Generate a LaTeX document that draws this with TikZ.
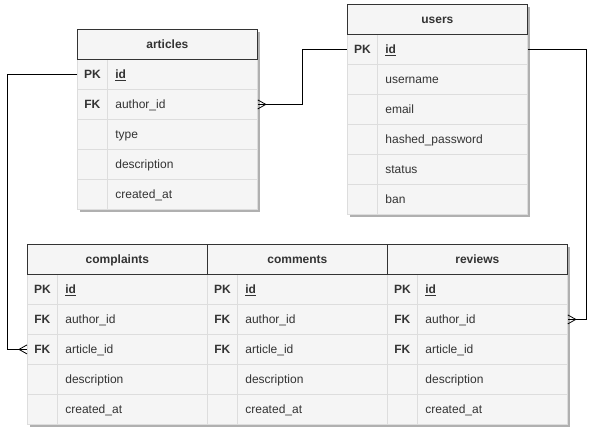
\documentclass[tikz,border=0pt]{standalone}
\usepackage{fontspec}
\setmainfont{Liberation Sans}
\definecolor{cellfill}{HTML}{F5F5F5}
\definecolor{cellline}{HTML}{DDDDDD}
\definecolor{headline}{HTML}{333333}
\definecolor{txt}{HTML}{333333}
\definecolor{shadowgray}{HTML}{B0B0B0}
\tikzset{
  cell/.style={draw=cellline, fill=cellfill, line width=0.8pt, minimum height=30pt,
    anchor=north west, inner sep=0pt, text=txt, text height=10.3pt, text depth=1.7pt,
    font=\fontsize{12}{14}\selectfont},
  keycell/.style={cell, minimum width=30pt, font=\fontsize{12}{14}\selectfont\bfseries},
  fieldcell/.style={cell, minimum width=150pt, text width=134pt, inner xsep=8pt, align=left},
  tablehead/.style={draw=headline, fill=cellfill, line width=0.8pt, minimum width=180pt,
    minimum height=30pt, anchor=north west, inner sep=0pt, text=txt,
    text height=10.3pt, text depth=1.7pt, font=\fontsize{12}{14}\selectfont\bfseries},
  shadowbox/.style={fill=shadowgray},
  link/.style={draw=black, line width=0.8pt}
}
\begin{document}
\begin{tikzpicture}[x=1pt, y=-1pt]
    \useasboundingbox (0,0) rectangle (596,432);

    % shadows
    \fill[shadowbox] (80,32) rectangle (260,212);
    \fill[shadowbox] (350,7) rectangle (530,217);
    \fill[shadowbox] (30,247) rectangle (570,427);

    % articles
      \node[keycell] (art-id-k) at (77,59) {PK};
      \node[fieldcell] (art-id) at (107,59) {\textbf{\underline{id}}};
      \node[keycell] (art-author-k) at (77,89) {FK};
      \node[fieldcell] (art-author) at (107,89) {author\_id};
      \node[keycell] (art-type-k) at (77,119) {};
      \node[fieldcell] (art-type) at (107,119) {type};
      \node[keycell] (art-desc-k) at (77,149) {};
      \node[fieldcell] (art-desc) at (107,149) {description};
      \node[keycell] (art-created-k) at (77,179) {};
      \node[fieldcell] (art-created) at (107,179) {created\_at};
    \node[tablehead] (art) at (77,29) {articles};

    % users
      \node[keycell] (usr-id-k) at (347,34) {PK};
      \node[fieldcell] (usr-id) at (377,34) {\textbf{\underline{id}}};
      \node[keycell] (usr-name-k) at (347,64) {};
      \node[fieldcell] (usr-name) at (377,64) {username};
      \node[keycell] (usr-email-k) at (347,94) {};
      \node[fieldcell] (usr-email) at (377,94) {email};
      \node[keycell] (usr-pass-k) at (347,124) {};
      \node[fieldcell] (usr-pass) at (377,124) {hashed\_password};
      \node[keycell] (usr-status-k) at (347,154) {};
      \node[fieldcell] (usr-status) at (377,154) {status};
      \node[keycell] (usr-ban-k) at (347,184) {};
      \node[fieldcell] (usr-ban) at (377,184) {ban};
    \node[tablehead] (usr) at (347,4) {users};

    % complaints
      \node[keycell] (cmp-id-k) at (27,274) {PK};
      \node[fieldcell] (cmp-id) at (57,274) {\textbf{\underline{id}}};
      \node[keycell] (cmp-author-k) at (27,304) {FK};
      \node[fieldcell] (cmp-author) at (57,304) {author\_id};
      \node[keycell] (cmp-article-k) at (27,334) {FK};
      \node[fieldcell] (cmp-article) at (57,334) {article\_id};
      \node[keycell] (cmp-desc-k) at (27,364) {};
      \node[fieldcell] (cmp-desc) at (57,364) {description};
      \node[keycell] (cmp-created-k) at (27,394) {};
      \node[fieldcell] (cmp-created) at (57,394) {created\_at};
    \node[tablehead] (cmp) at (27,244) {complaints};

    % comments
      \node[keycell] (cmt-id-k) at (207,274) {PK};
      \node[fieldcell] (cmt-id) at (237,274) {\textbf{\underline{id}}};
      \node[keycell] (cmt-author-k) at (207,304) {FK};
      \node[fieldcell] (cmt-author) at (237,304) {author\_id};
      \node[keycell] (cmt-article-k) at (207,334) {FK};
      \node[fieldcell] (cmt-article) at (237,334) {article\_id};
      \node[keycell] (cmt-desc-k) at (207,364) {};
      \node[fieldcell] (cmt-desc) at (237,364) {description};
      \node[keycell] (cmt-created-k) at (207,394) {};
      \node[fieldcell] (cmt-created) at (237,394) {created\_at};
    \node[tablehead] (cmt) at (207,244) {comments};

    % reviews
      \node[keycell] (rev-id-k) at (387,274) {PK};
      \node[fieldcell] (rev-id) at (417,274) {\textbf{\underline{id}}};
      \node[keycell] (rev-author-k) at (387,304) {FK};
      \node[fieldcell] (rev-author) at (417,304) {author\_id};
      \node[keycell] (rev-article-k) at (387,334) {FK};
      \node[fieldcell] (rev-article) at (417,334) {article\_id};
      \node[keycell] (rev-desc-k) at (387,364) {};
      \node[fieldcell] (rev-desc) at (417,364) {description};
      \node[keycell] (rev-created-k) at (387,394) {};
      \node[fieldcell] (rev-created) at (417,394) {created\_at};
    \node[tablehead] (rev) at (387,244) {reviews};

    % links
    \draw[link] (art-id-k.west) -- ++(-70,0) |- (cmp-article-k.west);
    \draw[link] (cmp-article-k.west) ++(0,4.5) -- ++(-8,-4.5) -- ++(8,-4.5);
    \draw[link] (art-author.east) -- ++(45,0) |- (usr-id-k.west);
    \draw[link] (art-author.east) ++(0,4.5) -- ++(8,-4.5) -- ++(-8,-4.5);
    \draw[link] (usr-id.east) -- ++(59,0) |- (rev-author.east);
    \draw[link] (rev-author.east) ++(0,4.5) -- ++(8,-4.5) -- ++(-8,-4.5);
\end{tikzpicture}
\end{document}
